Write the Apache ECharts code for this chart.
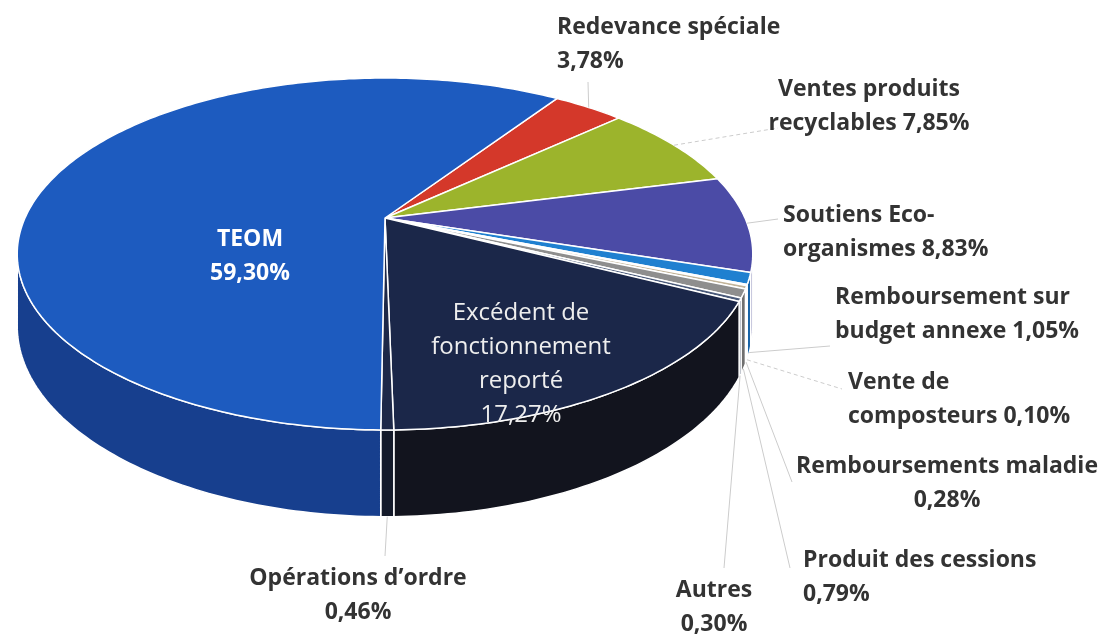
<!DOCTYPE html>
<html>
<head>
<meta charset="utf-8">
<script src="https://cdn.jsdelivr.net/npm/echarts@6/dist/echarts.min.js"></script>
<style>
  html, body { margin: 0; background: #fff; }
  #chart { width: 1099px; height: 636px; }
</style>
</head>
<body>
<div id="chart"></div>
<script>
// Répartition des recettes (en %), dans l'ordre des parts, sens horaire
const categories = [
  'Redevance spéciale', 'Ventes produits recyclables', 'Soutiens Eco-organismes',
  'Remboursement sur budget annexe', 'Vente de composteurs', 'Remboursements maladie',
  'Produit des cessions', 'Autres', 'Excédent de fonctionnement reporté',
  'Opérations d\u2019ordre', 'TEOM'
];
const shares = [3.78, 7.85, 8.83, 1.05, 0.10, 0.28, 0.79, 0.30, 17.27, 0.46, 59.30];
const labelLines = [
  ['Redevance spéciale', '3,78%'],
  ['Ventes produits', 'recyclables 7,85%'],
  ['Soutiens Eco-', 'organismes 8,83%'],
  ['Remboursement sur', 'budget annexe 1,05%'],
  ['Vente de', 'composteurs 0,10%'],
  ['Remboursements maladie', '0,28%'],
  ['Produit des cessions', '0,79%'],
  ['Autres', '0,30%'],
  ['Excédent de', 'fonctionnement', 'reporté', '17,27%'],
  ['Opérations d\u2019ordre', '0,46%'],
  ['TEOM', '59,30%']
];

// couleurs : dessus / côté
const topColors = ['#d4382a', '#9cb42c', '#4b4ba6', '#1f80d0', '#6b2a2a', '#c2b49a',
  '#8e8e8e', '#4a5a7a', '#1b2749', '#1d2848', '#1d5bbf'];
const sideColors = ['#a82a20', '#7a8d22', '#393a85', '#1762a6', '#521f1f', '#a09078',
  '#707070', '#38455e', '#12141e', '#141a2a', '#173f8e'];

// placement des étiquettes : x, y (1re ligne), alignement, fin du trait, hauteur du départ, pointillé
const labelLayout = [
  { x: 557, y: 27, align: 'left', end: [588, 82], z: 0 },
  { x: 869, y: 89, align: 'center', end: [778, 128], z: 0, dash: true },
  { x: 783, y: 215, align: 'left', end: [778, 219], z: 0 },
  { x: 835, y: 297, align: 'left', end: [830, 346], z: 1 },
  { x: 848, y: 382, align: 'left', end: [842, 389], z: 1, dash: true },
  { x: 947, y: 466, align: 'center', end: [792, 482], z: 1 },
  { x: 803, y: 560, align: 'left', end: [790, 568], z: 1 },
  { x: 714, y: 590, align: 'center', end: [724, 568], z: 1 },
  { x: 521, y: 313, align: 'center', inside: true, bold: false },
  { x: 358, y: 578, align: 'center', end: [385, 556], z: 1 },
  { x: 250, y: 239, align: 'center', inside: true, bold: true }
];

// projection en perspective du camembert
const CX = 385, CY = 218, RX = 360, RY = 168.6, K = -0.2045, DEPTH = 69;
const START = 34;            // degrés, sens horaire depuis le haut
const LINE_H = 34;
const FONT = '"Open Sans", sans-serif';

function proj(deg, r, z) {
  const t = deg * Math.PI / 180;
  const u = r * Math.sin(t), v = -r * Math.cos(t);
  const d = 1 + K * v;
  return [CX + RX * u / d, CY + (RY * v + DEPTH * z) / d];
}
function arc(a0, a1, z) {
  const n = Math.max(2, Math.ceil((a1 - a0) / 1));
  const pts = [];
  for (let k = 0; k <= n; k++) pts.push(proj(a0 + (a1 - a0) * k / n, 1, z));
  return pts;
}
// partie visible de la paroi (entre les points de tangence)
const VIS0 = Math.acos(K) * 180 / Math.PI;   // ~101.8
const VIS1 = 360 - VIS0;

const total = shares.reduce((a, b) => a + b, 0);
const cumul = [];
shares.reduce((acc, v, i) => { cumul[i] = acc; return acc + v; }, 0);

function renderItem(params, api) {
  const i = params.dataIndex;
  const value = api.value(0);
  const a0 = START + cumul[i] / total * 360;
  const a1 = a0 + value / total * 360;
  const mid = (a0 + a1) / 2;
  const children = [];

  const w0 = Math.max(a0, VIS0), w1 = Math.min(a1, VIS1);
  if (w1 > w0) {
    const pts = arc(w0, w1, 0).concat(arc(w0, w1, 1).reverse());
    children.push({
      type: 'polygon', z2: 1,
      shape: { points: pts },
      style: { fill: sideColors[i], stroke: '#ffffff', lineWidth: 1.5 }
    });
  }
  children.push({
    type: 'polygon', z2: 2,
    shape: { points: [[CX, CY]].concat(arc(a0, a1, 0)) },
    style: { fill: topColors[i], stroke: '#ffffff', lineWidth: 1.5, lineJoin: 'round' }
  });

  const lay = labelLayout[i];
  if (!lay.inside) {
    children.push({
      type: 'polyline', z2: 3,
      shape: { points: [proj(mid, 1, lay.z), lay.end] },
      style: { stroke: '#cccccc', lineWidth: 1, lineDash: lay.dash ? [4, 3] : null, fill: null }
    });
  }
  const inside = lay.inside;
  children.push({
    type: 'text', z2: inside ? 2.5 : 4,
    style: {
      text: labelLines[i].join('\n'),
      x: lay.x, y: lay.y - LINE_H / 2,
      fill: inside ? (lay.bold ? '#ffffff' : '#eeeeee') : '#333333',
      font: (inside && !lay.bold ? 'normal 24px ' : 'bold 23px ') + FONT,
      align: lay.align, textAlign: lay.align,
      verticalAlign: 'top', textVerticalAlign: 'top',
      lineHeight: LINE_H
    }
  });
  return { type: 'group', children: children };
}

const chart = echarts.init(document.getElementById('chart'));
chart.setOption({
  animation: false,
  series: [{
    type: 'custom',
    coordinateSystem: 'none',
    renderItem: renderItem,
    data: shares.map((v, i) => ({ name: categories[i], value: [v] }))
  }]
});
</script>
</body>
</html>
